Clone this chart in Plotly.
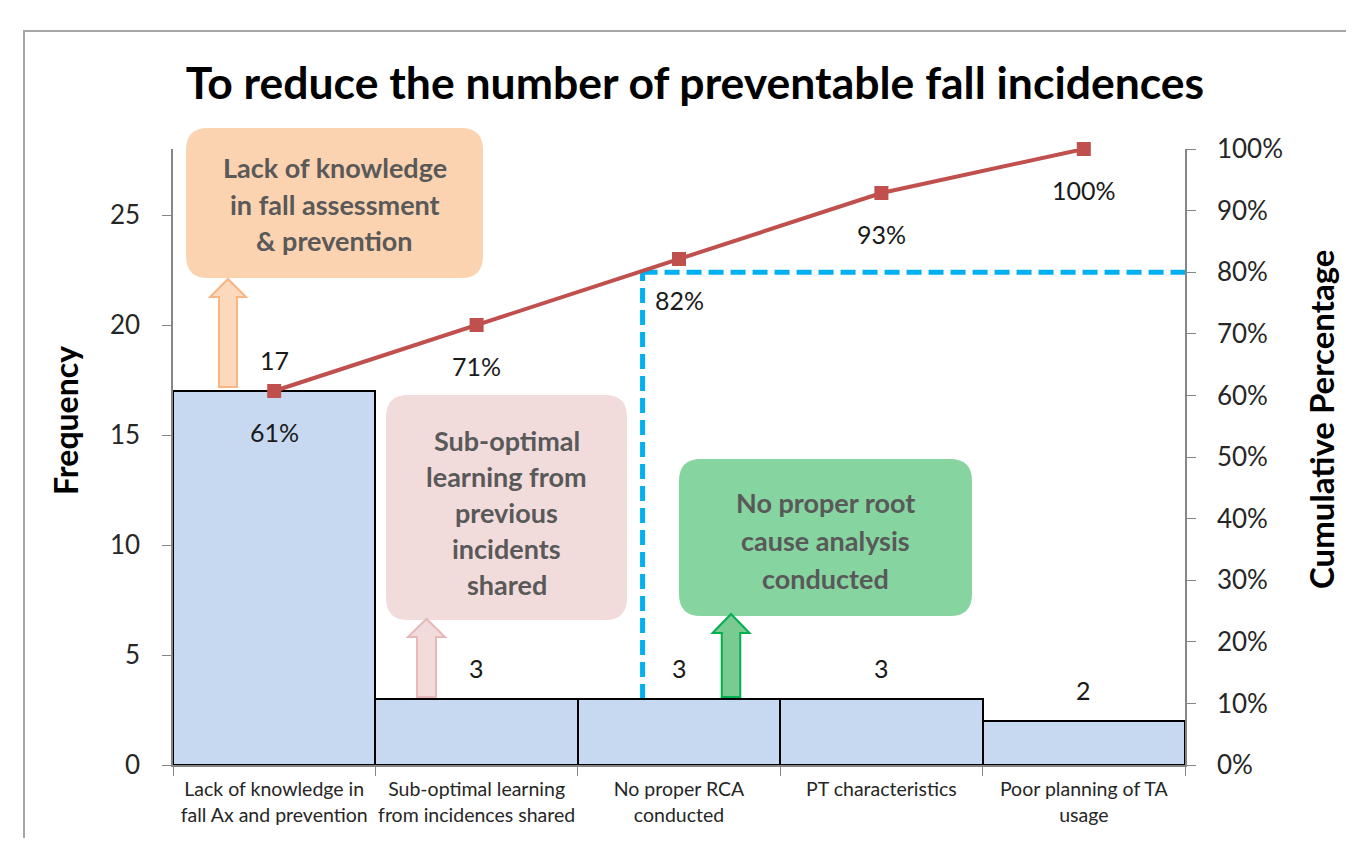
import plotly.graph_objects as go

# ---------------- data ----------------
categories = [
    "Lack of knowledge in<br>fall Ax and prevention",
    "Sub-optimal learning<br>from incidences shared",
    "No proper RCA<br>conducted",
    "PT characteristics",
    "Poor planning of TA<br>usage",
]
frequency = [17, 3, 3, 3, 2]
cum_pct_labels = ["61%", "71%", "82%", "93%", "100%"]
threshold = 0.80           # 80% Pareto cut-off
threshold_x = 1.82         # between 2nd and 3rd category
freq_ticks = [0, 5, 10, 15, 20, 25]
pct_ticks = [0, 0.1, 0.2, 0.3, 0.4, 0.5, 0.6, 0.7, 0.8, 0.9, 1.0]

callouts = [
    ["Lack of knowledge", "in fall assessment", "& prevention"],
    ["Sub-optimal", "learning from", "previous", "incidents", "shared"],
    ["No proper root", "cause analysis", "conducted"],
]

total = sum(frequency)
cum = []
s = 0
for f in frequency:
    s += f
    cum.append(s / total)

FONT = "Lato"

# ---------------- geometry helpers (page pixel -> paper) ----------------
PAGE_W, PAGE_H = 1354, 846
OFF = 8                      # default body margin of the html page
W, H = PAGE_W - 2 * OFF, PAGE_H - 2 * OFF
L, R, T, B = 173, 1185, 149, 765   # plot area in page pixels


def px(x):
    return (x - L) / (R - L)


def py(y):
    return (B - y) / (B - T)


def rounded_rect(x0, y0, x1, y1, r=22):
    d = f"M{px(x0 + r)},{py(y0)} L{px(x1 - r)},{py(y0)} Q{px(x1)},{py(y0)} {px(x1)},{py(y0 + r)} "
    d += f"L{px(x1)},{py(y1 - r)} Q{px(x1)},{py(y1)} {px(x1 - r)},{py(y1)} "
    d += f"L{px(x0 + r)},{py(y1)} Q{px(x0)},{py(y1)} {px(x0)},{py(y1 - r)} "
    d += f"L{px(x0)},{py(y0 + r)} Q{px(x0)},{py(y0)} {px(x0 + r)},{py(y0)} Z"
    return d


def up_arrow(cx, tip, base, bottom, sw, hw):
    p = [
        (cx - sw / 2, bottom), (cx - sw / 2, base), (cx - hw / 2, base), (cx, tip),
        (cx + hw / 2, base), (cx + sw / 2, base), (cx + sw / 2, bottom),
    ]
    return "M" + " L".join(f"{px(a)},{py(b)}" for a, b in p) + " Z"


fig = go.Figure()

fig.add_trace(go.Bar(
    x=categories, y=frequency, yaxis="y",
    marker=dict(color="#C6D9F1", line=dict(color="black", width=2)),
    showlegend=False, hoverinfo="skip",
))
fig.add_trace(go.Scatter(
    x=categories, y=cum, yaxis="y2", mode="lines+markers",
    line=dict(color="#C0504D", width=4),
    marker=dict(symbol="square", size=14, color="#C0504D"),
    cliponaxis=False,
    showlegend=False, hoverinfo="skip",
))

annotations = []
for c, f in zip(categories, frequency):
    annotations.append(dict(x=c, y=f, xref="x", yref="y", text=str(f), showarrow=False,
                            yshift=31, font=dict(family=FONT, size=25, color="#1a1a1a")))
for c, v, t in zip(categories, cum, cum_pct_labels):
    annotations.append(dict(x=c, y=v, xref="x", yref="y2", text=t, showarrow=False,
                            yshift=-41, font=dict(family=FONT, size=25, color="#1a1a1a")))

# axis titles
annotations.append(dict(x=px(65), y=py(421), xref="paper", yref="paper", text="<b>Frequency</b>",
                        textangle=-90, showarrow=False, xanchor="center", yanchor="middle",
                        font=dict(family=FONT, size=32, color="black")))
annotations.append(dict(x=px(1321), y=py(420), xref="paper", yref="paper",
                        text="<b>Cumulative Percentage</b>",
                        textangle=-90, showarrow=False, xanchor="center", yanchor="middle",
                        font=dict(family=FONT, size=33, color="black")))

shapes = []
# outer frame (partially visible)
shapes.append(dict(type="path", xref="paper", yref="paper",
                   path=f"M{px(24)},{py(900)} L{px(24)},{py(31)} L{px(1400)},{py(31)}",
                   line=dict(color="#A6A6A6", width=2), layer="below"))

# 80% threshold line
shapes.append(dict(type="line", xref="x", yref="y2", x0=threshold_x, x1=4.5, y0=threshold, y1=threshold,
                   line=dict(color="#00B0F0", width=5, dash="15px,7px"), layer="below"))
shapes.append(dict(type="line", xref="x", yref="y2", x0=threshold_x, x1=threshold_x,
                   y0=frequency[2] / total, y1=threshold,
                   line=dict(color="#00B0F0", width=5, dash="15px,7px"), layer="below"))

# callout boxes
boxes = [
    dict(rect=(186, 128, 483, 278), fill="#FBD3B1", lines=callouts[0], cy=204, step=36.5),
    dict(rect=(386, 395, 627, 620), fill="#F2DCDB", lines=callouts[1], cy=512, step=36),
    dict(rect=(679, 459, 972, 616), fill="#86D4A0", lines=callouts[2], cy=540, step=38),
]
for b in boxes:
    x0, y0, x1, y1 = b["rect"]
    shapes.append(dict(type="path", xref="paper", yref="paper", path=rounded_rect(x0, y0, x1, y1),
                       fillcolor=b["fill"], line=dict(width=0), layer="above"))
    n = len(b["lines"])
    cx = (x0 + x1) / 2
    for i, t in enumerate(b["lines"]):
        yy = b["cy"] + (i - (n - 1) / 2) * b["step"]
        annotations.append(dict(x=px(cx), y=py(yy), xref="paper", yref="paper", text=f"<b>{t}</b>",
                                showarrow=False, xanchor="center", yanchor="middle",
                                font=dict(family=FONT, size=27, color="#595959")))

arrows = [
    dict(cx=228, tip=279, base=297, bottom=387, sw=18, hw=36, fill="#FCD9BC", line="#F9B683"),
    dict(cx=426.5, tip=619, base=637, bottom=697, sw=19, hw=37, fill="#F2DCDB", line="#E6B9B8"),
    dict(cx=731, tip=614, base=633, bottom=697, sw=18.5, hw=37, fill="#7ACB92", line="#00B050"),
]
for a in arrows:
    shapes.append(dict(type="path", xref="paper", yref="paper",
                       path=up_arrow(a["cx"], a["tip"], a["base"], a["bottom"], a["sw"], a["hw"]),
                       fillcolor=a["fill"], line=dict(color=a["line"], width=2), layer="above"))

fig.update_layout(
    width=W, height=H,
    margin=dict(l=L - OFF, r=(OFF + W) - R, t=T - OFF, b=(OFF + H) - B, autoexpand=False),
    paper_bgcolor="white", plot_bgcolor="white",
    bargap=0,
    title=dict(text="<b>To reduce the number of preventable fall incidences</b>",
               x=(695 - OFF) / W, xref="container", xanchor="center",
               y=1 - (83 - OFF) / H, yref="container", yanchor="middle",
               font=dict(family=FONT, size=44.5, color="black")),
    xaxis=dict(type="category", range=[-0.5, 4.5], showline=True, linecolor="#868686", linewidth=1.5,
               ticks="outside", tickson="boundaries", ticklen=9, tickcolor="#868686",
               tickangle=0,
               tickfont=dict(family=FONT, size=19.5, color="#262626"), ticklabelstandoff=6,
               showgrid=False, zeroline=False, fixedrange=True),
    yaxis=dict(range=[0, total], tickvals=freq_ticks, showline=True, linecolor="#868686", linewidth=1.5,
               ticks="outside", ticklen=9, tickcolor="#868686",
               tickfont=dict(family=FONT, size=26, color="#262626"), ticklabelstandoff=17,
               showgrid=False, zeroline=False),
    yaxis2=dict(range=[0, 1], tickvals=pct_ticks, tickformat=".0%", overlaying="y", side="right",
                showline=True, linecolor="#868686", linewidth=1.5,
                ticks="outside", ticklen=9, tickcolor="#868686",
                tickfont=dict(family=FONT, size=26, color="#262626"), ticklabelstandoff=16,
                showgrid=False, zeroline=False),
    annotations=annotations,
    shapes=shapes,
)

fig.write_html("out.html")
